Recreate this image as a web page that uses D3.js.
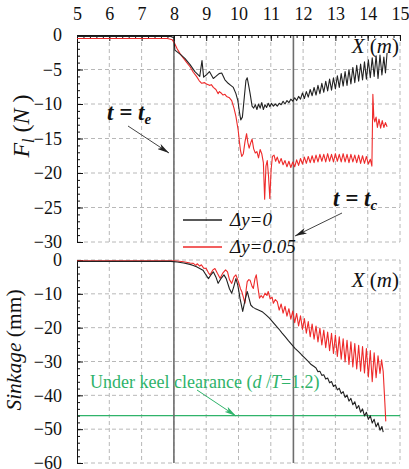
<!DOCTYPE html>
<html>
<head>
<meta charset="UTF-8">
<script src="https://d3js.org/d3.v7.min.js"></script>
<style>
  body { margin: 0; background: #fff; }
</style>
</head>
<body>
<svg width="409" height="469"></svg>
<script>
// ---- data ----
const xTicks = [5, 6, 7, 8, 9, 10, 11, 12, 13, 14, 15];
const fTicks = [0, -5, -10, -15, -20, -25, -30];
const sTicks = [0, -10, -20, -30, -40, -50, -60];
const tE = 8.0, tC = 11.7;
const ukc = -46;

// lateral force F_l (N), dy = 0
const force0 = [
  [5.0,-0.2],[7.9,-0.2],[8.0,-0.4],[8.03,-2.2],[8.2,-2.8],[8.34,-3.4],[8.5,-4.3],[8.65,-5.3],[8.8,-6.0],
  [8.87,-3.7],[8.92,-6.1],[9.0,-5.8],[9.1,-5.3],[9.22,-6.3],[9.3,-6.0],[9.4,-5.6],[9.48,-5.5],[9.58,-6.5],
  [9.68,-7.0],[9.76,-7.3],[9.84,-7.6],[9.92,-8.5],[9.98,-9.5],[10.03,-11.2],[10.07,-12.3],[10.12,-11.9],
  [10.18,-9.0],[10.23,-6.6],[10.27,-6.2],[10.31,-7.2],[10.36,-8.5],[10.42,-10.3],[10.47,-10.6],[10.52,-10.1],
  [10.57,-10.8],[10.62,-10.0],[10.67,-10.6],[10.72,-9.8],[10.77,-10.8],[10.82,-10.1],[10.87,-10.5],[10.92,-9.9],
  [10.97,-10.4],[11.02,-9.9],[11.08,-10.3],[11.14,-10.0],[11.2,-10.3],[11.26,-9.9],[11.32,-10.1],[11.38,-9.6],
  [11.44,-10.0],[11.5,-9.5],[11.56,-9.8],[11.62,-9.3],[11.68,-9.6],[11.74,-9.1],[11.8,-9.5],[11.86,-8.9],
  [11.92,-9.3],[11.98,-8.4],[12.04,-9.2],[12.1,-8.2],[12.16,-9.0],[12.22,-7.9],[12.28,-8.8],[12.34,-7.6],
  [12.4,-8.7],[12.46,-7.3],[12.52,-8.5],[12.58,-7.0],[12.64,-8.3],[12.7,-6.7],[12.76,-8.1],[12.82,-6.4],
  [12.88,-8.0],[12.94,-6.2],[13.0,-7.8],[13.06,-5.9],[13.12,-7.6],[13.18,-5.6],[13.24,-7.4],[13.3,-5.3],
  [13.36,-7.3],[13.42,-5.0],[13.48,-7.1],[13.54,-4.7],[13.6,-6.9],[13.66,-4.4],[13.72,-6.7],[13.78,-4.2],
  [13.84,-6.5],[13.9,-3.9],[13.96,-6.4],[14.02,-3.6],[14.08,-6.2],[14.14,-3.3],[14.2,-6.0],[14.26,-3.0],
  [14.32,-6.3],[14.38,-2.9],[14.44,-5.8],[14.5,-3.2],[14.55,-5.5],[14.6,-2.6]
];

// lateral force F_l (N), dy = 0.05
const force05 = [
  [5.0,-0.5],[7.8,-0.5],[7.95,-0.7],[8.02,-1.2],[8.1,-2.0],[8.19,-2.7],[8.3,-3.4],[8.4,-4.0],[8.5,-4.6],
  [8.6,-5.4],[8.7,-6.0],[8.78,-6.6],[8.86,-7.0],[8.95,-6.9],[9.01,-7.1],[9.1,-7.3],[9.16,-7.2],[9.22,-7.6],
  [9.3,-7.9],[9.37,-8.5],[9.41,-8.2],[9.46,-8.4],[9.52,-8.7],[9.58,-8.6],[9.63,-8.9],[9.72,-9.1],[9.79,-9.5],
  [9.86,-10.6],[9.92,-11.8],[9.99,-13.8],[10.03,-15.5],[10.06,-16.7],[10.1,-17.6],[10.15,-17.2],[10.2,-15.5],
  [10.25,-14.3],[10.29,-15.6],[10.33,-16.4],[10.38,-15.6],[10.42,-15.1],[10.47,-16.5],[10.52,-17.1],
  [10.57,-16.9],[10.62,-17.8],[10.67,-16.6],[10.72,-17.2],[10.77,-18.5],[10.81,-23.8],[10.85,-19.0],
  [10.89,-18.2],[10.93,-20.5],[10.97,-23.7],[11.01,-19.5],[11.05,-17.6],[11.1,-17.4],[11.15,-18.3],
  [11.2,-17.7],[11.26,-18.6],[11.32,-17.9],[11.38,-18.8],[11.44,-18.2],[11.5,-19.1],[11.56,-18.3],
  [11.62,-19.2],[11.68,-18.4],[11.74,-19.1],[11.8,-18.1],[11.86,-18.9],[11.92,-17.9],[11.98,-18.7],
  [12.04,-17.7],[12.1,-18.6],[12.16,-17.6],[12.22,-18.5],[12.28,-17.5],[12.34,-18.5],[12.4,-17.4],
  [12.46,-18.4],[12.52,-17.3],[12.58,-18.3],[12.64,-17.3],[12.7,-18.4],[12.76,-17.2],[12.82,-18.3],
  [12.88,-17.3],[12.94,-18.4],[13.0,-17.2],[13.06,-18.3],[13.12,-17.3],[13.18,-18.4],[13.24,-17.2],
  [13.3,-18.4],[13.36,-17.3],[13.42,-18.5],[13.48,-17.3],[13.54,-18.4],[13.6,-17.4],[13.66,-18.5],
  [13.72,-17.4],[13.78,-18.6],[13.84,-17.5],[13.9,-18.6],[13.96,-17.6],[14.02,-18.7],[14.08,-18.0],
  [14.13,-19.0],[14.16,-8.6],[14.19,-12.0],[14.22,-12.6],[14.26,-11.9],[14.3,-13.4],[14.35,-12.2],
  [14.4,-13.5],[14.45,-12.4],[14.5,-13.4],[14.55,-12.7],[14.6,-13.3]
];

// sinkage (mm), dy = 0
const sink0 = [
  [5.0,-0.4],[7.9,-0.4],[8.1,-0.6],[8.3,-0.9],[8.5,-1.3],[8.6,-1.6],[8.7,-2.0],[8.8,-2.5],[8.9,-3.0],
  [8.98,-4.2],[9.07,-5.5],[9.14,-4.5],[9.22,-3.5],[9.3,-5.0],[9.37,-6.9],[9.45,-5.6],[9.55,-4.4],[9.62,-5.5],
  [9.72,-8.5],[9.79,-9.8],[9.85,-8.0],[9.92,-5.5],[9.98,-7.5],[10.05,-11.5],[10.13,-15.2],[10.2,-12.0],
  [10.27,-9.3],[10.33,-11.5],[10.38,-13.3],[10.45,-14.0],[10.51,-14.3],[10.58,-14.6],[10.65,-14.9],
  [10.75,-15.4],[10.85,-16.2],[10.95,-17.1],[11.05,-18.2],[11.15,-19.3],[11.25,-20.4],[11.35,-21.6],
  [11.45,-22.7],[11.55,-23.9],[11.65,-25.0],[11.75,-26.1],[11.85,-27.0],[11.95,-28.0],[12.05,-28.9],
  [12.15,-29.9],[12.25,-30.9],[12.34,-31.5],[12.4,-31.9],[12.46,-33.0],[12.52,-32.9],[12.58,-34.1],
  [12.64,-33.9],[12.7,-35.2],[12.76,-34.9],[12.82,-36.3],[12.88,-35.9],[12.94,-37.4],[13.0,-36.9],
  [13.06,-38.4],[13.12,-37.9],[13.18,-39.5],[13.24,-38.9],[13.3,-40.6],[13.36,-39.9],[13.42,-41.7],
  [13.48,-40.9],[13.54,-42.8],[13.6,-41.9],[13.66,-43.9],[13.72,-43.0],[13.78,-45.0],[13.84,-44.0],
  [13.9,-46.1],[13.96,-45.0],[14.02,-47.1],[14.08,-46.0],[14.14,-48.2],[14.2,-47.1],[14.26,-49.3],
  [14.32,-48.1],[14.38,-50.3],[14.44,-49.2],[14.48,-50.9]
];

// sinkage (mm), dy = 0.05
const sink05 = [
  [5.0,-0.2],[7.9,-0.2],[8.1,-0.3],[8.3,-0.5],[8.5,-0.9],[8.6,-1.0],[8.68,-1.6],[8.72,-1.1],[8.8,-1.8],
  [8.85,-1.4],[8.92,-2.4],[9.0,-2.5],[9.07,-3.8],[9.12,-4.4],[9.2,-3.0],[9.27,-2.5],[9.35,-4.0],[9.43,-5.4],
  [9.52,-3.8],[9.6,-2.9],[9.66,-3.5],[9.72,-5.8],[9.79,-6.9],[9.86,-5.0],[9.92,-4.4],[10.0,-6.5],[10.06,-8.5],
  [10.1,-9.3],[10.15,-11.0],[10.2,-12.8],[10.24,-8.5],[10.27,-6.4],[10.32,-5.8],[10.36,-6.0],[10.42,-7.8],
  [10.46,-8.4],[10.51,-5.5],[10.55,-4.4],[10.6,-8.0],[10.65,-11.3],[10.7,-10.5],[10.76,-11.2],[10.82,-9.8],
  [10.88,-10.5],[10.92,-9.3],[10.98,-11.5],[11.04,-11.0],[11.08,-12.8],[11.14,-11.7],[11.2,-12.3],
  [11.26,-14.8],[11.32,-13.0],[11.38,-15.7],[11.44,-13.7],[11.5,-16.6],[11.56,-14.4],[11.62,-17.5],
  [11.68,-15.1],[11.74,-18.5],[11.8,-15.8],[11.86,-19.5],[11.92,-16.5],[11.98,-20.5],[12.04,-17.3],
  [12.1,-21.6],[12.16,-18.2],[12.22,-22.7],[12.28,-18.9],[12.34,-23.4],[12.4,-19.5],[12.46,-24.2],
  [12.52,-20.1],[12.58,-25.1],[12.64,-20.7],[12.7,-25.9],[12.76,-21.3],[12.82,-26.8],[12.88,-21.7],
  [12.94,-27.6],[13.0,-22.2],[13.06,-28.5],[13.12,-22.7],[13.18,-29.3],[13.24,-23.3],[13.3,-30.1],
  [13.36,-23.7],[13.42,-30.9],[13.48,-24.2],[13.54,-31.6],[13.6,-24.7],[13.66,-32.2],[13.72,-25.2],
  [13.78,-32.9],[13.84,-25.6],[13.9,-33.4],[13.96,-26.2],[14.02,-34.6],[14.08,-26.8],[14.14,-36.0],
  [14.2,-27.4],[14.26,-34.8],[14.32,-28.3],[14.38,-33.5],[14.43,-29.5],[14.48,-33.0],[14.53,-42.0],
  [14.56,-47.7]
];

// ---- layout ----
const FONT = '"Liberation Serif"';
const svg = d3.select("svg");
const x = d3.scaleLinear().domain([5, 15]).range([77, 400]);
const yF = d3.scaleLinear().domain([-30, 0]).range([242, 35]);
const yS = d3.scaleLinear().domain([-60, 0]).range([463, 260]);

const gridColor = "#b8b8b8";
const red = "#ee2a2a";
const green = "#2fb36a";

// arrow markers
const defs = svg.append("defs");
function marker(id, color) {
  defs.append("marker")
    .attr("id", id)
    .attr("viewBox", "0 0 12 6")
    .attr("refX", 12).attr("refY", 3)
    .attr("markerWidth", 12).attr("markerHeight", 6)
    .attr("markerUnits", "userSpaceOnUse")
    .attr("orient", "auto")
    .append("path")
    .attr("d", "M0,0 L12,3 L0,6 L3,3 Z")
    .attr("fill", color);
}
marker("arrBlack", "#222");
marker("arrGreen", green);

// grid for one panel
function grid(y, yTicks) {
  const g = svg.append("g")
    .attr("stroke", gridColor)
    .attr("stroke-width", 1)
    .attr("stroke-dasharray", "4,3");
  g.selectAll(".vg")
    .data(xTicks.slice(1))
    .enter().append("line")
    .attr("x1", d => x(d)).attr("x2", d => x(d))
    .attr("y1", y.range()[1]).attr("y2", y.range()[0]);
  g.selectAll(".hg")
    .data(yTicks)
    .enter().append("line")
    .attr("x1", x(5)).attr("x2", x(15))
    .attr("y1", d => y(d)).attr("y2", d => y(d));
}
grid(yF, fTicks.slice(1));
grid(yS, sTicks);

// green under keel clearance line
svg.append("line")
  .attr("x1", x(5)).attr("x2", x(15))
  .attr("y1", yS(ukc)).attr("y2", yS(ukc))
  .attr("stroke", green).attr("stroke-width", 1.3);

// t = te, t = tc vertical lines
[tE, tC].forEach(t => {
  svg.append("line")
    .attr("x1", x(t)).attr("x2", x(t))
    .attr("y1", yF(0)).attr("y2", yS(-60))
    .attr("stroke", "#6e6e6e").attr("stroke-width", 1.6);
});

// axes
function styleAxis(g) {
  g.attr("font-family", null).attr("font-size", null);
  g.selectAll("text")
    .style("font-family", FONT)
    .style("font-size", "18px")
    .attr("fill", "#111");
  g.selectAll("line").attr("stroke", "#111");
  g.select(".domain").attr("stroke", "#111");
}

svg.append("g")
  .attr("transform", `translate(0,${yF(0)})`)
  .call(d3.axisTop(x).tickValues(xTicks).tickSizeInner(-6).tickSizeOuter(0).tickPadding(15))
  .call(styleAxis);
svg.append("g")
  .attr("transform", `translate(0,${yF(0)})`)
  .call(d3.axisTop(x).tickValues(d3.range(5, 15.01, 0.2)).tickSizeInner(-3).tickSizeOuter(0).tickFormat(""))
  .call(g => g.select(".domain").remove())
  .call(styleAxis);

svg.append("g")
  .attr("transform", `translate(${x(5)},0)`)
  .call(d3.axisLeft(yF).tickValues(fTicks).tickSizeInner(-6).tickSizeOuter(0).tickPadding(15))
  .call(styleAxis);
svg.append("g")
  .attr("transform", `translate(${x(5)},0)`)
  .call(d3.axisLeft(yF).tickValues(d3.range(-30, 0.5, 1)).tickSizeInner(-3).tickSizeOuter(0).tickFormat(""))
  .call(g => g.select(".domain").remove())
  .call(styleAxis);

svg.append("g")
  .attr("transform", `translate(${x(5)},0)`)
  .call(d3.axisLeft(yS).tickValues(sTicks).tickSizeInner(-6).tickSizeOuter(0).tickPadding(15))
  .call(styleAxis);
svg.append("g")
  .attr("transform", `translate(${x(5)},0)`)
  .call(d3.axisLeft(yS).tickValues(d3.range(-60, 0.5, 2)).tickSizeInner(-3).tickSizeOuter(0).tickFormat(""))
  .call(g => g.select(".domain").remove())
  .call(styleAxis);

// series
function drawLine(data, y, color) {
  svg.append("path")
    .datum(data)
    .attr("fill", "none")
    .attr("stroke", color)
    .attr("stroke-width", 1.1)
    .attr("stroke-linejoin", "round")
    .attr("d", d3.line().x(d => x(d[0])).y(d => y(d[1])));
}
drawLine(force05, yF, red);
drawLine(force0, yF, "#222");
drawLine(sink05, yS, red);
drawLine(sink0, yS, "#222");

// text helper
function addText(xPos, yPos, size) {
  return svg.append("text")
    .attr("x", xPos).attr("y", yPos)
    .style("font-family", FONT)
    .style("font-size", size + "px")
    .attr("fill", "#111");
}

// axis titles
const fLabel = addText(0, 0, 24)
  .attr("transform", `translate(29,126) rotate(-90)`)
  .attr("text-anchor", "middle");
fLabel.append("tspan").style("font-style", "italic").text("F");
fLabel.append("tspan").style("font-style", "italic").style("font-size", "16px").attr("dy", 5).text("l");
fLabel.append("tspan").attr("dy", -5).text(" (");
fLabel.append("tspan").style("font-style", "italic").text("N");
fLabel.append("tspan").text(" )");

const sLabel = addText(0, 0, 21.5)
  .attr("transform", `translate(21,350) rotate(-90)`)
  .attr("text-anchor", "middle");
sLabel.append("tspan").style("font-style", "italic").text("Sinkage");
sLabel.append("tspan").text(" (mm)");

function xLabel(yPos) {
  const t = addText(399, yPos, 21).attr("text-anchor", "end");
  t.append("tspan").style("font-style", "italic").text("X");
  t.append("tspan").text(" (");
  t.append("tspan").style("font-style", "italic").text("m");
  t.append("tspan").text(")");
}
xLabel(53);
xLabel(287);

// t = te / t = tc annotations
function tLabel(xPos, yPos, sub) {
  const t = addText(xPos, yPos, 23)
    .style("font-weight", "bold")
    .style("font-style", "italic");
  t.append("tspan").text("t = t");
  t.append("tspan").style("font-size", "15px").attr("dy", 4).text(sub);
}
tLabel(107, 120, "e");
tLabel(333, 206, "c");

svg.append("line")
  .attr("x1", 128).attr("y1", 126).attr("x2", 169).attr("y2", 153)
  .attr("stroke", "#444").attr("stroke-width", 1)
  .attr("marker-end", "url(#arrBlack)");
svg.append("line")
  .attr("x1", 342).attr("y1", 213).attr("x2", 295).attr("y2", 236)
  .attr("stroke", "#444").attr("stroke-width", 1)
  .attr("marker-end", "url(#arrBlack)");

// legend
const legend = [
  { label: "Δy=0", color: "#222", y: 220 },
  { label: "Δy=0.05", color: red, y: 247 }
];
legend.forEach(l => {
  svg.append("line")
    .attr("x1", 183).attr("x2", 222)
    .attr("y1", l.y).attr("y2", l.y)
    .attr("stroke", l.color).attr("stroke-width", 1.3);
  addText(230, l.y + 6, 19)
    .style("font-style", "italic")
    .text(l.label);
});

// under keel clearance
const ukcText = addText(90, 388, 18).attr("fill", green);
ukcText.append("tspan").text("Under keel clearance (");
ukcText.append("tspan").style("font-style", "italic").text("d");
ukcText.append("tspan").text(" /");
ukcText.append("tspan").style("font-style", "italic").text("T");
ukcText.append("tspan").text("=1.2)");

svg.append("line")
  .attr("x1", 197).attr("y1", 390).attr("x2", 236).attr("y2", 416)
  .attr("stroke", green).attr("stroke-width", 1)
  .attr("marker-end", "url(#arrGreen)");
</script>
</body>
</html>
